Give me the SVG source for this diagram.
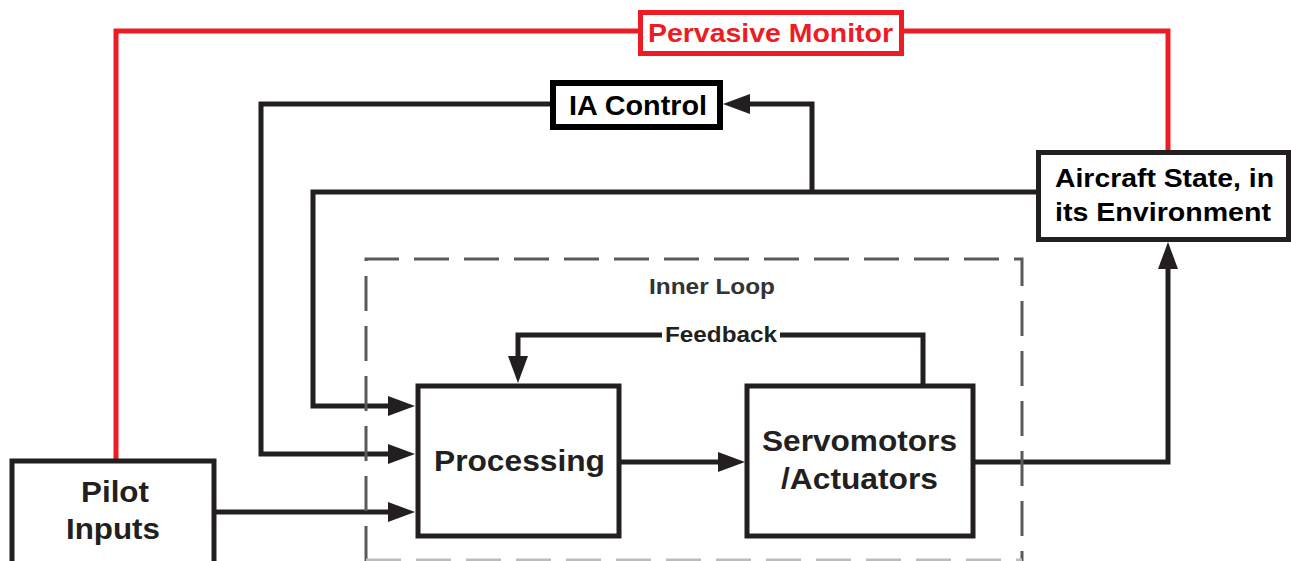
<svg xmlns="http://www.w3.org/2000/svg" width="1291" height="561" viewBox="0 0 1291 561">
<style>
.box{fill:#fff;stroke:#231f20;stroke-width:5}
.lbl{font-family:"Liberation Sans",Arial,sans-serif;font-weight:bold;fill:#000;text-anchor:middle}
.wire{fill:none;stroke:#231f20;stroke-width:5}
.red{fill:none;stroke:#ed1c24;stroke-width:5}
.dash{fill:none;stroke:#58595b;stroke-width:3;stroke-dasharray:35 15}
</style>
<defs>
<marker id="arr" viewBox="0 0 27 20" refX="15" refY="10" markerWidth="27" markerHeight="20" markerUnits="userSpaceOnUse" orient="auto">
<path d="M0,0 L27,10 L0,20 z" fill="#231f20"/>
</marker>
</defs>
<rect width="1291" height="561" fill="#fff"/>
<g id="connectors">
<path class="red" d="M116,461 V31 H640"/>
<path class="red" d="M904,31 H1168 V152"/>
<path class="wire" d="M1037,192 H313 V406 H403" marker-end="url(#arr)"/>
<path class="wire" d="M553,104 H261 V454 H403" marker-end="url(#arr)"/>
<path class="wire" d="M214,512 H403" marker-end="url(#arr)"/>
<path class="wire" d="M812,192 V104 H735" marker-end="url(#arr)"/>
<path class="wire" d="M619,462 H733" marker-end="url(#arr)"/>
<path class="wire" d="M973,462 H1168 V254" marker-end="url(#arr)"/>
<path class="wire" d="M923,386 V335 H780"/>
<path class="wire" d="M662,335 H518 V371" marker-end="url(#arr)"/>
<text class="lbl" x="721" y="342" font-size="22" fill="#231f20" textLength="112" lengthAdjust="spacingAndGlyphs" style="fill:#231f20">Feedback</text>
</g>
<g id="inner-loop">
<path class="dash" d="M366,561 V259 H1022 V561"/>
<path class="dash" d="M366,560 H1022" style="stroke:#bbbcbe"/>
<text class="lbl" x="712" y="294" font-size="22" textLength="126" lengthAdjust="spacingAndGlyphs" style="fill:#333">Inner Loop</text>
</g>
<g id="pervasive-monitor">
<rect x="640.5" y="12.5" width="261" height="41" fill="#fff" stroke="#ed1c24" stroke-width="5"/>
<text class="lbl" x="770.5" y="42" font-size="26" textLength="245" lengthAdjust="spacingAndGlyphs" style="fill:#ed1c24">Pervasive Monitor</text>
</g>
<g id="ia-control">
<rect x="553" y="83" width="167" height="44" fill="#fff" stroke="#000" stroke-width="6"/>
<text class="lbl" x="638" y="115" font-size="28" textLength="138" lengthAdjust="spacingAndGlyphs">IA Control</text>
</g>
<g id="aircraft-state">
<rect class="box" x="1038.5" y="152.5" width="250" height="87"/>
<text class="lbl" x="1164.5" y="187" font-size="25" textLength="219" lengthAdjust="spacingAndGlyphs">Aircraft State, in</text>
<text class="lbl" x="1163" y="221" font-size="25" textLength="216" lengthAdjust="spacingAndGlyphs">its Environment</text>
</g>
<g id="pilot-inputs">
<rect class="box" x="12" y="461" width="202" height="110"/>
<text class="lbl" x="115" y="502" font-size="30" textLength="68" lengthAdjust="spacingAndGlyphs" style="fill:#231f20">Pilot</text>
<text class="lbl" x="113" y="539" font-size="30" textLength="94" lengthAdjust="spacingAndGlyphs" style="fill:#231f20">Inputs</text>
</g>
<g id="processing">
<rect class="box" x="418" y="386" width="201" height="150"/>
<text class="lbl" x="519.5" y="471" font-size="29" textLength="171" lengthAdjust="spacingAndGlyphs" style="fill:#231f20">Processing</text>
</g>
<g id="servomotors">
<rect class="box" x="747" y="386" width="226" height="150"/>
<text class="lbl" x="859.5" y="451" font-size="29" textLength="195" lengthAdjust="spacingAndGlyphs" style="fill:#231f20">Servomotors</text>
<text class="lbl" x="859.5" y="489" font-size="29" textLength="157" lengthAdjust="spacingAndGlyphs" style="fill:#231f20">/Actuators</text>
</g>
</svg>
